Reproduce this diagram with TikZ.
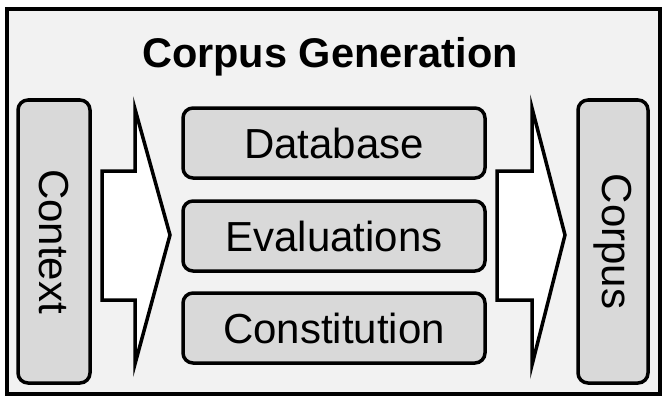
\documentclass[tikz,border=0pt]{standalone}
\usepackage{fontspec}
\setmainfont{Liberation Sans}
\definecolor{bggray}{HTML}{F2F2F2}
\definecolor{boxgray}{HTML}{D9D9D9}
\begin{document}
\begin{tikzpicture}[x=1pt,y=-1pt,
  box/.style={draw=black, line width=3.5pt, fill=boxgray, rounded corners=10pt, inner sep=0pt, font=\fontsize{42}{50}\selectfont},
  flow/.style={draw=black, line width=3.5pt, fill=white, line join=miter}]
\useasboundingbox (0,0) rectangle (667,404);
\draw[line width=4pt, fill=bggray] (7,9) rectangle (660,394);
\node[font=\bfseries\fontsize{41.5}{50}\selectfont, anchor=base] (title) at (330,67) {Corpus Generation};
\node[box, minimum width=302pt, minimum height=70pt] (db) at (334,143) {Database};
\node[box, minimum width=302pt, minimum height=70pt] (ev) at (334,236) {Evaluations};
\node[box, minimum width=302pt, minimum height=70pt] (co) at (334,328) {Constitution};
\node[box, rotate=-90, minimum width=283pt, minimum height=72pt] (ctx) at (54,241.5) {Context};
\node[box, rotate=-90, minimum width=283pt, minimum height=70pt] (crp) at (613,241.5) {Corpus};
\draw[flow] (102,171) -- (135,171) -- (135,109) -- (170,235) -- (135,364) -- (135,300) -- (102,300) -- cycle;
\draw[flow] (497,171) -- (532,171) -- (532,108) -- (565,235) -- (532,365) -- (532,300) -- (497,300) -- cycle;
\end{tikzpicture}
\end{document}
